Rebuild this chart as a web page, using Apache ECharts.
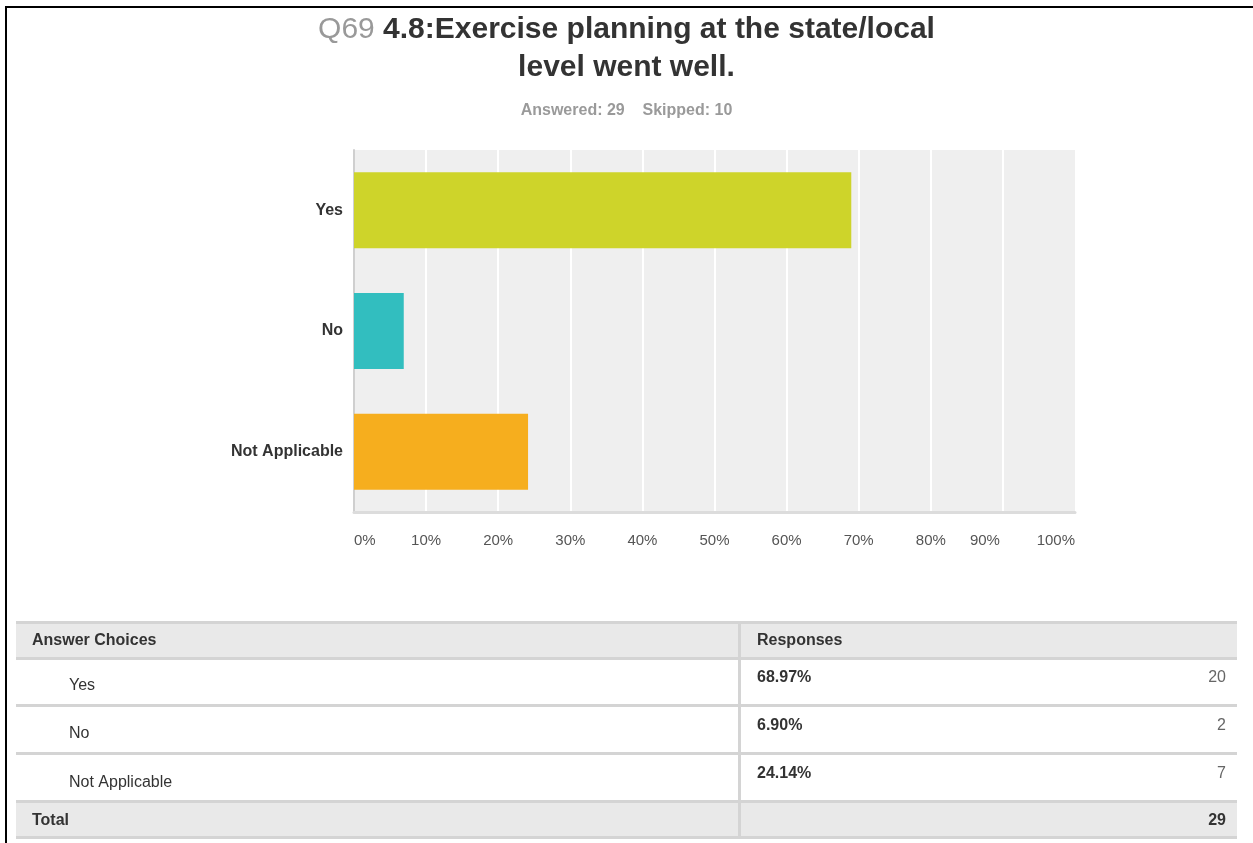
<!DOCTYPE html>
<html>
<head>
<meta charset="utf-8">
<script src="https://cdn.jsdelivr.net/npm/echarts@6/dist/echarts.min.js"></script>
<style>
  html, body { margin: 0; padding: 0; background: #fff; }
  #chart { width: 1253px; height: 843px; }
</style>
</head>
<body>
<div id="chart"></div>
<script>
// ---- data ----
const questionNo = 'Q69';
const questionText = ['4.8:Exercise planning at the state/local', 'level went well.'];
const answered = 29;
const skipped = 10;
const categories = ['Yes', 'No', 'Not Applicable'];
const percentages = [68.97, 6.90, 24.14];
const counts = [20, 2, 7];
const total = 29;
const tableHeaders = ['Answer Choices', 'Responses'];
const totalLabel = 'Total';

// ---- styles ----
const FONT = '"Liberation Sans", Arial, Helvetica, sans-serif';
const barColors = ['#ced42a', '#32bebf', '#f6ae1e'];

const chart = echarts.init(document.getElementById('chart'), null, { renderer: 'canvas' });

// table graphics
const LINE = '#d4d4d4';
const HEAD = '#e9e9e9';
const tLeft = 16, tRight = 1237, colX = 738;
const rowLines = [621, 657, 704, 752, 800, 836];
const graphics = [];
// outer border of the page
graphics.push({ type: 'rect', shape: { x: 5, y: 6, width: 1248, height: 2 }, style: { fill: '#000' } });
graphics.push({ type: 'rect', shape: { x: 5, y: 6, width: 2, height: 837 }, style: { fill: '#000' } });
// header and total backgrounds
graphics.push({ type: 'rect', shape: { x: tLeft, y: 621, width: tRight - tLeft, height: 36 }, style: { fill: HEAD } });
graphics.push({ type: 'rect', shape: { x: tLeft, y: 800, width: tRight - tLeft, height: 36 }, style: { fill: HEAD } });
rowLines.forEach(function (y) {
  graphics.push({ type: 'rect', shape: { x: tLeft, y: y, width: tRight - tLeft, height: 3 }, style: { fill: LINE } });
});
graphics.push({ type: 'rect', shape: { x: colX, y: 621, width: 3, height: 218 }, style: { fill: LINE } });

function txt(text, x, y, opts) {
  return {
    type: 'text',
    style: Object.assign({
      text: text, x: x, y: y, font: '16px ' + FONT, fill: '#333',
      align: 'left', verticalAlign: 'middle'
    }, opts || {})
  };
}
graphics.push(txt(tableHeaders[0], 32, 641, { font: 'bold 16px ' + FONT }));
graphics.push(txt(tableHeaders[1], 757, 641, { font: 'bold 16px ' + FONT }));
const labelY = [686, 734, 783];
const valueY = [678, 726, 774];
categories.forEach(function (c, i) {
  graphics.push(txt(c, 69, labelY[i], { font: '16px ' + FONT }));
  graphics.push(txt(percentages[i].toFixed(2) + '%', 757, valueY[i], { font: 'bold 16px ' + FONT }));
  graphics.push(txt(String(counts[i]), 1226, valueY[i], { font: '16px ' + FONT, fill: '#666', align: 'right' }));
});
graphics.push(txt(totalLabel, 32, 821, { font: 'bold 16px ' + FONT }));
graphics.push(txt(String(total), 1226, 821, { font: 'bold 16px ' + FONT, align: 'right' }));

const option = {
  animation: false,
  backgroundColor: '#fff',
  textStyle: { fontFamily: FONT },
  title: [
    {
      text: '{q|' + questionNo + '} ' + questionText[0],
      left: 'center', top: 13, padding: 0,
      textStyle: {
        fontFamily: FONT, fontSize: 30, fontWeight: 'bold', color: '#333', lineHeight: 34,
        rich: {
          q: { fontFamily: FONT, fontSize: 30, fontWeight: 'normal', color: '#999', lineHeight: 34 }
        }
      }
    },
    {
      text: questionText[1],
      left: 'center', top: 51, padding: 0,
      textStyle: { fontFamily: FONT, fontSize: 30, fontWeight: 'bold', color: '#333', lineHeight: 34 }
    },
    {
      text: 'Answered: ' + answered + '    Skipped: ' + skipped,
      left: 'center', top: 102, padding: 0,
      textStyle: { fontFamily: FONT, fontSize: 16, fontWeight: 'bold', color: '#9a9a9a', lineHeight: 18 }
    }
  ],
  grid: {
    left: 354, right: 178, top: 150, bottom: 331,
    show: true, backgroundColor: '#efefef', borderWidth: 0, containLabel: false
  },
  xAxis: {
    type: 'value', min: 0, max: 100, interval: 10,
    axisLine: { show: true, lineStyle: { color: '#dcdcdc', width: 3 } },
    axisTick: { show: false },
    splitLine: { show: true, showMinLine: false, showMaxLine: false, lineStyle: { color: '#ffffff', width: 2 } },
    axisLabel: {
      margin: 21, fontFamily: FONT, fontSize: 15, color: '#555',
      alignMinLabel: 'left', alignMaxLabel: 'right',
      formatter: function (v) { return v === 90 ? '{s|' + v + '%}' : v + '%'; },
      rich: { s: { fontFamily: FONT, fontSize: 15, color: '#555', padding: [0, 36, 0, 0] } }
    }
  },
  yAxis: {
    type: 'category', data: categories, inverse: true,
    axisLine: { show: true, lineStyle: { color: '#cfcfcf', width: 2 } },
    axisTick: { show: false },
    splitLine: { show: false },
    axisLabel: { margin: 11, fontFamily: FONT, fontSize: 16, fontWeight: 'bold', color: '#333' }
  },
  series: [{
    type: 'bar',
    data: percentages,
    barWidth: '63%',
    itemStyle: { color: function (p) { return barColors[p.dataIndex]; } },
    silent: true
  }],
  graphic: graphics
};
chart.setOption(option);
</script>
</body>
</html>
